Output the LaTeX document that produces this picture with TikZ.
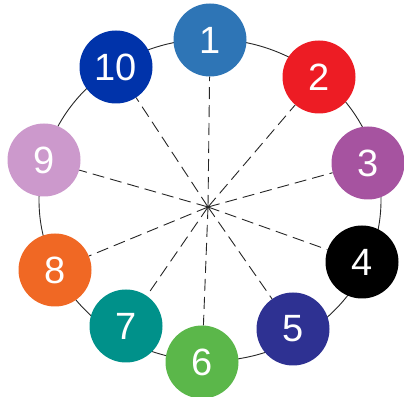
\documentclass[tikz,border=0pt]{standalone}
\usepackage{fontspec}
\setmainfont{Liberation Sans}
\definecolor{cOne}{RGB}{46,117,182}
\definecolor{cTwo}{RGB}{237,28,36}
\definecolor{cThree}{RGB}{166,83,160}
\definecolor{cFour}{RGB}{0,0,0}
\definecolor{cFive}{RGB}{46,49,146}
\definecolor{cSix}{RGB}{91,183,74}
\definecolor{cSeven}{RGB}{0,145,138}
\definecolor{cEight}{RGB}{240,104,36}
\definecolor{cNine}{RGB}{204,153,204}
\definecolor{cTen}{RGB}{0,51,170}
\begin{document}
\begin{tikzpicture}[x=1pt, y=1pt,
		num/.style={circle, minimum size=73pt, inner sep=0pt, text=white, font=\fontsize{38}{38}\selectfont},
		spoke/.style={black!85, line width=0.9pt, dash pattern=on 12pt off 6pt}]
	\useasboundingbox (0,0) rectangle (404,396);
	\draw[black!85, line width=0.9pt] (210,196) ellipse (171 and 161);
	\coordinate (c) at (208,189);
	\foreach \n/\x/\y/\col in {1/210/356/cOne, 2/319/319/cTwo, 3/368/233/cThree, 4/362/134/cFour, 5/293/67/cFive,
		6/202/34/cSix, 7/126/70/cSeven, 8/55/126/cEight, 9/44/236/cNine, 10/116/329/cTen}
		{ \node[num, fill=\col] (n\n) at (\x,\y) {\n}; }
	\foreach \n in {1,...,10} { \draw[spoke] (c) -- (n\n); }
\end{tikzpicture}
\end{document}
